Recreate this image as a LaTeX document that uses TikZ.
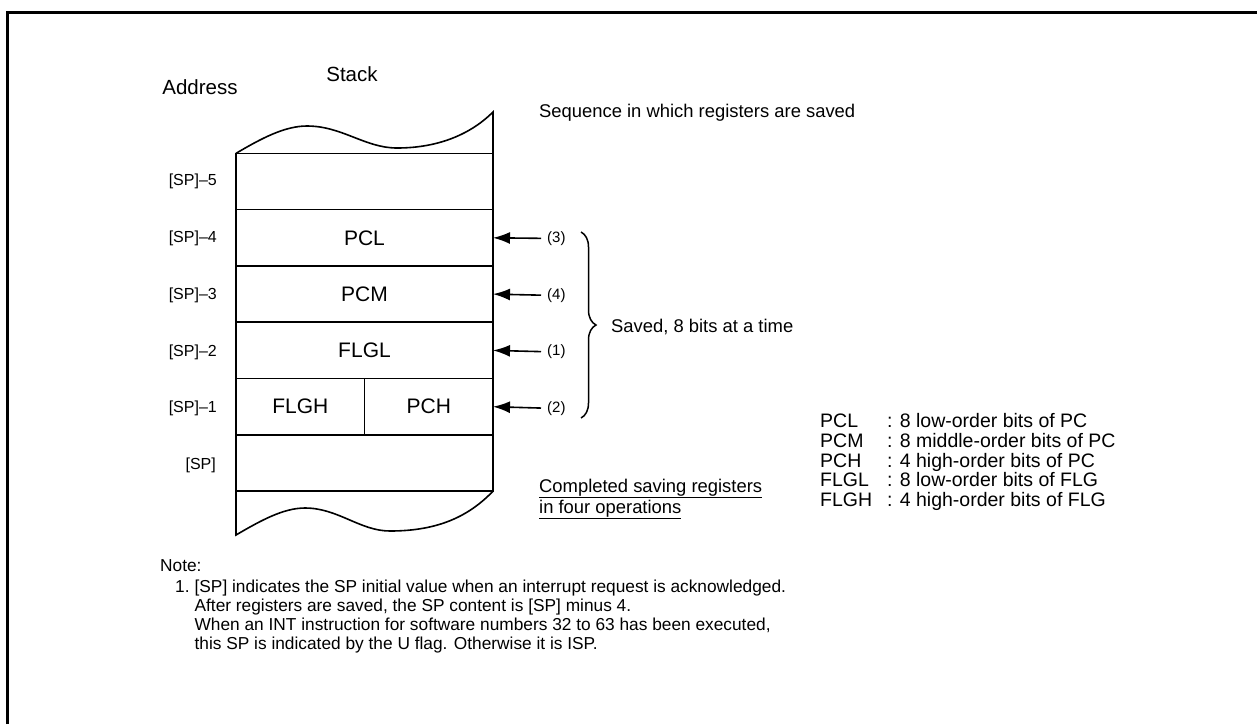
\documentclass[tikz,border=0pt]{standalone}
\usepackage{fontspec}
\setmainfont{Liberation Sans}
\usetikzlibrary{arrows.meta,positioning,calc,decorations.pathreplacing}
\definecolor{ink}{HTML}{000000}
\newcommand{\fsz}[2]{\fontsize{#1}{#2}\selectfont}
\tikzset{
  cell/.style={
    rectangle, draw=ink, line width=1.6pt, outer sep=0pt, inner sep=0pt,
    minimum width=257pt, minimum height=56.3pt,
    text=ink, font=\fsz{21}{25}
  },
  halfcell/.style={cell, minimum width=128.5pt},
  addrlabel/.style={anchor=east, inner sep=0pt, font=\fsz{16}{19}},
  orderlabel/.style={anchor=west, inner xsep=6pt, inner ysep=1pt, font=\fsz{15}{18}},
  seqarrow/.style={
    -{Latex[length=17pt, width=12pt]}, line width=1.6pt, draw=ink
  },
  savebrace/.style={decorate, decoration={brace, amplitude=15pt}, line width=1.5pt},
  remark/.style={anchor=west, inner sep=0pt, align=left, font=\fsz{18.4}{21}}
}

\begin{document}
\begin{tikzpicture}[x=1pt, y=-1pt, node distance=0pt]
  \useasboundingbox (0,0) rectangle (1257,724);
  % frame
  \draw[line width=3pt] (7,724) -- (7,12) -- (1257,12);

  % headings
  \node[font=\fsz{20.5}{24}] (addr) at (200,87) {Address};
  \node[font=\fsz{20.5}{24}] (stk) at (352,74) {Stack};

  % stack cells
  \node[cell] (s5) at (364.5,181.5) {};
  \node[cell, below=of s5] (pcl) {PCL};
  \node[cell, below=of pcl] (pcm) {PCM};
  \node[cell, below=of pcm] (flgl) {FLGL};
  \node[halfcell, anchor=north west] (flgh) at (flgl.south west) {FLGH};
  \node[halfcell, right=of flgh] (pch) {PCH};
  \node[cell, anchor=north west] (sp) at (flgh.south west) {};

  % torn ends of the stack
  \draw[line width=1.6pt] (s5.north west)
    .. controls (262,138) and (285,126) .. (307,126)
    .. controls (342,126) and (365,148) .. (397,148)
    .. controls (440,148) and (472,133) .. (493,112) -- (s5.north east);
  \draw[line width=1.6pt] (sp.south west) -- (236,535)
    .. controls (260,521) and (283,508) .. (305,508)
    .. controls (338,508) and (360,531) .. (390,531)
    .. controls (440,531) and (470,515) .. (sp.south east);

  % addresses
  \node[addrlabel] (a5) at (217,181.5) {[SP]–5};
  \node[addrlabel] (a4) at (217,238.5) {[SP]–4};
  \node[addrlabel] (a3) at (217,295.5) {[SP]–3};
  \node[addrlabel] (a2) at (217,352) {[SP]–2};
  \node[addrlabel] (a1) at (217,408.5) {[SP]–1};
  \node[addrlabel] (a0) at (216,465) {[SP]};

  % save order
  \node[remark] (seq) at (539,113) {Sequence in which registers are saved};
  \node[orderlabel] (o3) at (541,238.5) {(3)};
  \node[orderlabel] (o4) at (541,295.5) {(4)};
  \node[orderlabel] (o1) at (541,352) {(1)};
  \node[orderlabel] (o2) at (541,408.5) {(2)};
  \draw[seqarrow] (o3) -- (pcl.east);
  \draw[seqarrow] (o4) -- (pcm.east);
  \draw[seqarrow] (o1) -- (flgl.east);
  \draw[seqarrow] (o2) -- (pch.east);

  \coordinate (btop) at (581,232);
  \coordinate (bbot) at (581,418);
  \draw[savebrace] (btop) -- (bbot);
  \node[remark] (saved) at (611,327) {Saved, 8 bits at a time};

  \node[remark] (done) at (539,499) {\underline{Completed saving registers}\\\underline{in four operations}};

  % legend
  \node[anchor=west, inner sep=0pt, font=\fsz{19.5}{18.5}] (legend) at (820,463) {%
    \begin{tabular}{@{}l@{\hspace{15pt}}l@{}}
      PCL  & : 8 low-order bits of PC\\
      PCM  & : 8 middle-order bits of PC\\
      PCH  & : 4 high-order bits of PC\\
      FLGL & : 8 low-order bits of FLG\\
      FLGH & : 4 high-order bits of FLG
    \end{tabular}};

  % note
  \node[anchor=west, inner sep=0pt, font=\fsz{17.3}{19}] (note) at (160,566) {Note:};
  \node[anchor=north west, inner sep=0pt, font=\fsz{17.3}{19}] (notetext) at (175,579) {%
    \begin{tabular}{@{}l@{\hspace{5pt}}l@{}}
      1. & [SP] indicates the SP initial value when an interrupt request is acknowledged.\\
         & After registers are saved, the SP content is [SP] minus 4.\\
         & When an INT instruction for software numbers 32 to 63 has been executed,\\
         & this SP is indicated by the U flag. Otherwise it is ISP.
    \end{tabular}};
\end{tikzpicture}
\end{document}
